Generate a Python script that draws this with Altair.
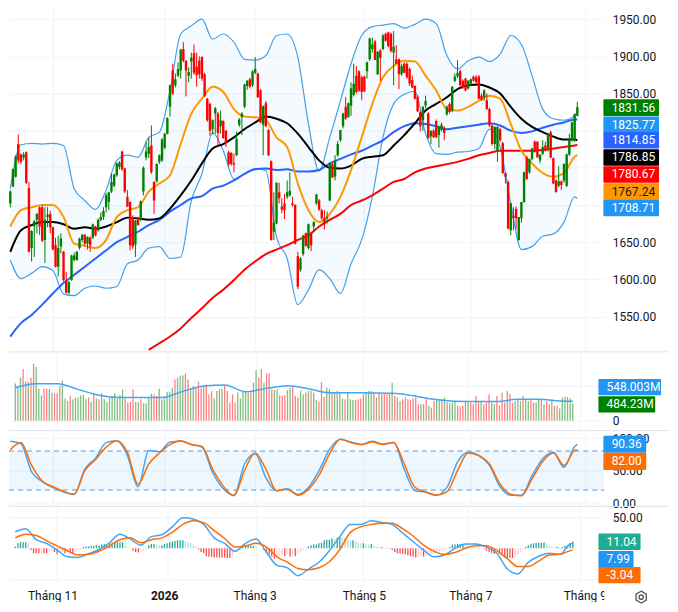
import altair as alt
import pandas as pd

# ---------- candles (price points, one list per field, in time order) ----------
opens = [1702,1725,1738,1782,1768,1764,1771,1723,1642,1671,1680,1697,1697,1653,1684,1688,1670,1646,1617,1644,
1637,1599,1582,1599,1626,1626,1642,1653,1660,1648,1656,1656,1671,1666,1680,1684,1697,1704,1718,1726,
1740,1751,1772,1749,1711,1704,1684,1647,1682,1680,1718,1764,1769,1780,1731,1732,1758,1760,1777,1796,
1832,1881,1861,1874,1881,1910,1894,1874,1893,1904,1886,1894,
1899,1876,1843,1836,1802,1823,1823,1806,1813,1800,1771,1770,1756,1767,1808,1818,1832,1860,1869,1861,
1878,1877,1854,1808,1837,1801,1759,1664,1675,1717,1698,1702,1711,1713,1702,1700,1631,1613,1634,1662,
1642,1662,1671,1702,1706,1693,1682,1682,1706,1755,1738,1767,1787,1806,1832,1818,1834,1848,1874,1880,
1872,1873,1880,1896,1910,1920,1876,1908,1910,1930,1932,1930,1905,1896,1896,
1876,1890,1890,1883,1868,1860,1846,1825,1814,1834,1823,1792,1800,1813,1794,1801,1804,1822,1836,1827,
1867,1873,1880,1867,1870,1857,1863,1873,1872,1873,1847,1845,1841,1829,1807,1782,1773,1802,1783,1743,
1731,1666,1686,1695,1653,1682,1704,1764,1744,1762,1785,1785,1760,1769,1780,1776,1798,1763,1733,1726,
1732,1733,1726,1768,1787,1787,1820]
highs = [1720,1749,1767,1795,1769,1771,1772,1731,1666,1680,1689,1698,1699,1697,1697,1692,1671,1656,1659,1662,
1638,1610,1598,1633,1636,1638,1656,1661,1661,1658,1658,1675,1672,1682,1690,1697,1716,1718,1742,1742,
1757,1759,1773,1750,1720,1705,1686,1680,1684,1706,1752,1785,1791,1807,1732,1756,1768,1790,1797,1818,
1862,1890,1877,1892,1910,1919,1895,1885,1905,1916,1905,1900,
1900,1878,1844,1838,1815,1832,1825,1827,1814,1801,1773,1771,1769,1799,1817,1825,1863,1868,1871,1881,
1899,1878,1856,1834,1840,1802,1760,1717,1730,1730,1709,1715,1733,1744,1711,1701,1637,1630,1660,1663,
1675,1663,1678,1715,1708,1695,1693,1691,1757,1757,1767,1786,1801,1824,1845,1838,1865,1890,1887,1881,
1874,1874,1893,1925,1925,1922,1907,1910,1930,1932,1933,1932,1934,1915,1897,
1890,1892,1892,1885,1874,1861,1848,1827,1833,1847,1825,1800,1802,1815,1806,1811,1806,1834,1838,1860,
1877,1895,1882,1869,1871,1868,1870,1874,1875,1875,1850,1856,1850,1831,1808,1806,1806,1804,1785,1744,
1733,1703,1697,1698,1684,1704,1745,1766,1762,1777,1787,1786,1768,1787,1785,1797,1800,1764,1734,1752,
1733,1756,1769,1796,1812,1823,1839]
lows = [1697,1724,1737,1756,1755,1760,1728,1636,1624,1630,1662,1660,1650,1622,1670,1662,1639,1616,1604,1635,
1597,1581,1580,1598,1624,1625,1640,1650,1645,1640,1637,1654,1658,1664,1678,1680,1690,1693,1716,1724,
1738,1748,1746,1716,1697,1639,1641,1630,1672,1678,1713,1760,1763,1742,1688,1730,1755,1758,1775,1795,
1819,1848,1858,1872,1870,1892,1846,1865,1870,1875,1859,1870,
1867,1845,1812,1793,1795,1796,1779,1796,1789,1778,1752,1753,1744,1766,1805,1794,1830,1855,1857,1859,
1876,1844,1810,1767,1805,1766,1652,1653,1674,1702,1689,1681,1708,1711,1698,1647,1587,1610,1631,1644,
1640,1638,1665,1700,1692,1680,1667,1675,1705,1736,1733,1765,1785,1803,1815,1818,1820,1846,1850,1852,
1841,1852,1870,1894,1905,1895,1875,1867,1908,1920,1912,1905,1861,1890,1856,
1874,1878,1870,1860,1857,1842,1825,1799,1800,1830,1789,1782,1790,1790,1777,1799,1787,1820,1823,1825,
1865,1871,1860,1856,1853,1855,1860,1866,1864,1842,1840,1840,1828,1805,1780,1775,1758,1785,1742,1729,
1668,1659,1666,1668,1652,1676,1703,1734,1742,1760,1771,1764,1756,1767,1772,1772,1763,1728,1717,1724,
1720,1730,1724,1766,1785,1785,1819]
closes = [1718,1748,1765,1760,1758,1768,1730,1637,1665,1678,1688,1671,1652,1680,1687,1670,1640,1617,1642,1655,
1599,1582,1596,1632,1632,1637,1655,1660,1648,1657,1646,1674,1659,1680,1684,1692,1713,1717,1731,1741,
1756,1757,1748,1718,1698,1646,1644,1679,1673,1705,1750,1772,1778,1744,1706,1755,1767,1788,1796,1817,
1861,1850,1869,1883,1909,1894,1881,1879,1898,1878,1875,1876,
1870,1847,1814,1800,1814,1830,1797,1814,1790,1783,1755,1755,1754,1789,1815,1823,1862,1867,1859,1880,
1883,1845,1811,1833,1806,1767,1653,1676,1730,1709,1694,1693,1717,1719,1700,1648,1590,1628,1659,1645,
1674,1646,1677,1714,1694,1682,1674,1684,1756,1737,1760,1782,1801,1823,1816,1837,1857,1863,1852,1854,
1852,1853,1892,1924,1916,1895,1906,1898,1928,1921,1914,1907,1913,1890,1876,
1887,1878,1872,1863,1858,1843,1826,1806,1832,1840,1790,1800,1791,1791,1805,1808,1797,1832,1825,1859,
1873,1878,1861,1858,1854,1867,1869,1867,1865,1843,1842,1854,1829,1807,1782,1805,1805,1787,1743,1738,
1668,1702,1682,1682,1684,1704,1744,1735,1762,1776,1771,1764,1768,1778,1773,1795,1764,1729,1717,1732,
1727,1755,1768,1787,1811,1822,1831.56]

# ---------- moving averages and Bollinger bands, read every fourth session ----------
line_bars = list(range(0, 213, 4)) + [213]
bb_upper = [1722,1781,1783,1782,1783,1780,1722,1706,1694,1720,1760,1767,1764,1791,1798,1854,1930,1941,
1950,1923,1930,1919,1896,1895,1901,1928,1930,1899,1809,1746,1791,1840,1890,1928,1940,1942,1944,
1938,1943,1950,1944,1901,1883,1894,1899,1893,1903,1928,1916,1874,1829,1816,1814,1820,1825.77]
bb_lower = [1626,1601,1608,1617,1612,1580,1578,1588,1591,1588,1590,1621,1626,1642,1644,1628,1630,1706,
1742,1797,1773,1735,1742,1749,1746,1657,1628,1566,1586,1613,1601,1581,1621,1653,1711,1791,1836,
1849,1853,1796,1769,1768,1771,1772,1776,1802,1778,1702,1640,1644,1658,1661,1677,1711,1708.71]
ma_20 = [1671,1693,1697,1700,1700,1684,1648,1645,1642,1653,1684,1693,1697,1718,1729,1740,1782,1823,
1843,1859,1852,1829,1819,1818,1814,1791,1778,1729,1693,1677,1688,1711,1747,1791,1836,1872,1887,
1894,1893,1874,1854,1829,1827,1832,1840,1847,1843,1809,1773,1756,1743,1738,1743,1765,1767.24]
ma_50 = [1637,1666,1673,1677,1677,1674,1668,1670,1668,1671,1677,1683,1682,1680,1682,1695,1713,1733,
1756,1776,1782,1791,1802,1811,1819,1816,1810,1796,1778,1760,1750,1749,1753,1762,1765,1767,1780,
1794,1810,1827,1836,1845,1856,1861,1862,1858,1850,1832,1816,1805,1798,1792,1788,1788,1786.85]
ma_100 = [1523,1541,1552,1566,1581,1595,1606,1617,1628,1639,1650,1657,1664,1673,1680,1691,1700,1709,
1712,1722,1726,1733,1742,1748,1749,1747,1748,1745,1745,1747,1756,1762,1768,1773,1780,1787,1798,
1806,1810,1809,1806,1802,1804,1806,1808,1810,1807,1800,1797,1799,1804,1808,1811,1815,1814.85]
ma_200 = [None]*13 + [1505,1514,1523,1534,1548,
1561,1575,1586,1599,1613,1624,1634,1640,1646,1653,1659,1671,1680,1688,1700,1706,1713,1722,1731,
1735,1744,1749,1752,1755,1758,1762,1767,1770,1773,1773,1773,1773,1774,1776,1778,1780,1780.67]

# ---------- volume, millions ----------
volume = [1054,998,1213,1465,1110,1092,1213,1614,1521,905,718,905,905,886,793,774,774,980,1138,625,
560,700,606,653,653,718,737,606,653,532,793,625,606,774,606,532,653,700,774,625,
718,886,625,513,532,886,532,532,606,494,494,653,765,746,700,905,606,625,812,812,
933,1166,1213,1278,1278,1334,1166,905,980,933,1110,933,980,1026,746,840,625,840,886,905,
980,840,513,746,513,793,625,840,840,793,840,1073,1427,1213,1465,1073,1334,1334,
886,868,886,718,700,718,868,933,980,700,653,840,746,793,840,840,793,588,532,1092,681,933,886,793,793,840,
812,625,606,793,606,588,588,606,625,746,812,840,840,812,653,793,746,774,746,774,1073,
700,653,560,606,653,606,588,625,653,466,466,466,606,420,373,560,606,606,606,653,532,494,513,560,420,
401,420,560,513,513,466,700,560,560,466,513,746,513,466,700,420,793,513,840,765,513,560,606,560,700,
606,560,606,513,513,606,606,466,560,466,606,420,420,345,653,681,672,625,484.23]
vol_ma_bars = list(range(0, 209, 8)) + [213]
vol_ma = [933,1045,1045,886,718,653,653,653,830,980,1008,821,914,989,905,793,
793,784,774,709,606,550,541,541,606,606,560,548.003]

# ---------- stochastic ----------
stoch_k = [95,91,48,33,24,17,13.5,52,69,93,96,73,25,81,79,94,95,90,86,47,22,12,60,76,39,19,22,13.5,24,50,83,98,
94,90,95,91,93,52,19,17,12,24,63,78,73,58,25,12,12,42,68,78,55,87,90.36]
stoch_d = [82,93,58,34,25,18,13.5,50,67,86,96,78,29,60,77,90,96,90,87,52,26,11,50,77,52,19,21,12,21,43,76,98,
93,90,94,90,93,60,24,17,12,17,50,77,73,60,29,13.5,11,37,64,77,58,81,82]

# ---------- MACD ----------
macd_line = [27,32,14,8,-3,-14,-15,-9,-2,9,23,15,5,19,22,35,50,48,39,17,8,-5,8,15,-7,-28,-32,-45,-34,-23,-4,19,
39,39,45,42,39,25,11,-3,-14,-11,0,7,7,2,-8,-34,-42,-23,-13,-8,-10,7,7.99]
macd_signal = [17,23,21,12,4,-4,-11,-10,-5,4,14,17,9,14,17,26,39,45,42,29,16,2,4,8,2,-14,-23,-33,-35,-32,-22,-2,
26,35,39,41,41,32,20,5,-5,-10,-7,0,4,4,-4,-17,-30,-30,-21,-11,-10,-4,-3.04]
macd_hist = [3,8,10,10,10,8,-3,-8,-8,-8,-7,-8,-8,-6,-4,-6,-10,-7,-6,-8,-7,-8,-8,-6,-4,-2,2,3,3,4,4,5,5,6,7,7,8,9,10,10,
10,10,6,3,1,-4,-6,-7,-6,-4,1,5,7,7,6,5,5,7,8,10,11,12,13,13,13,12,10,8,6,3,-2,-6,-8,-13,-14,-14,-15,-15,-15,-15,
-15,-16,-16,-14,-7,-3,2,3,4,4,4,4,3,1,0,-3,-8,-12,-14,-17,-15,-13,-12,-13,-10,-14,-12,-13,-9,-6,-4,-2,3,5,6,6,8,9,13,14,14,16,15,17,19,
18,17,14,13,13,12,10,8,8,7,6,7,4,3,2,2,1,1,-1,-3,-6,-8,-9,-9,-10,-12,-13,-14,-15,-14,-13,-14,-12,-11,-10,-9,-8,-7,-5,-3,-1,
2,6,6,7,7,7,6,5,4,3,1,1,0,-1,-4,-6,-8,-9,-8,-9,-12,-15,-16,-16,-16,-15,-11,-7,-3,2,5,7,8,9,9,9,10,8,4,3,2,2,-1,2,4,5,8,11.04]

# ---------- axes, ticks and value tags ----------
month_bars = [16, 58, 92, 133, 173, 216]
month_labels = ["Tháng 11", "2026", "Tháng 3", "Tháng 5", "Tháng 7", "Tháng 9"]
price_ticks = [1550, 1600, 1650, 1700, 1750, 1800, 1850, 1900, 1950]

tag_start = 222.8
price_tags = ["1831.56", "1825.77", "1814.85", "1786.85", "1780.67", "1767.24", "1708.71"]
price_tag_at = [1831, 1808, 1787, 1764, 1741, 1718, 1696]
price_tag_fill = ["#008000", "#2196f3", "#2962ff", "#000000", "#ff0000", "#ff9800", "#2196f3"]
price_tag_ink = ["#ffffff", "#ffffff", "#ffffff", "#ffffff", "#ffffff", "#131722", "#ffffff"]
vol_tags = ["548.003M", "484.23M"]
vol_tag_at = [952, 462]
vol_tag_fill = ["#2196f3", "#008000"]
vol_tag_end = [246.7, 244.5]
stoch_tags = ["90.36", "82.00"]
stoch_tag_at = [90.5, 64]
stoch_tag_fill = ["#2196f3", "#ff6d00"]
macd_tags = ["11.04", "7.99", "-3.04"]
macd_tag_at = [10.6, -18, -44]
macd_tag_fill = ["#22ab94", "#2196f3", "#ff6d00"]
macd_tag_end = [238.9, 236.2, 238.9]

N = len(closes)
assert all(len(a) == 214 for a in (opens, highs, lows, closes, volume, macd_hist))

FONT = "Roboto"
INK = "#131722"
GRID = "#f0f3fa"
SEP = "#e0e3eb"
X_DOMAIN = [-0.49, 223.1]
W = 597

candles = pd.DataFrame({"bar": range(N), "o": opens, "h": highs, "l": lows, "c": closes,
                        "vol": volume, "hist": macd_hist})
candles["dir"] = ["up" if c >= o else "down" for o, c in zip(opens, closes)]
hk = []
for i, v in enumerate(macd_hist):
    prev = macd_hist[i - 1] if i else v
    if v >= 0:
        hk.append("pos_up" if v >= prev else "pos_down")
    else:
        hk.append("neg_down" if v <= prev else "neg_up")
candles["hk"] = hk
lines = pd.DataFrame({"bar": line_bars, "up": bb_upper, "lo": bb_lower, "m20": ma_20, "m50": ma_50,
                      "m100": ma_100, "m200": ma_200, "k": stoch_k, "d": stoch_d,
                      "macd": macd_line, "sig": macd_signal})


def xenc(field="bar:Q"):
    return alt.X(field, scale=alt.Scale(domain=X_DOMAIN, nice=False, zero=False),
                 axis=alt.Axis(values=month_bars, labels=False, ticks=False, domain=False, title=None,
                               grid=True, gridColor=GRID, gridWidth=1))


def yenc(field, domain, values, label_expr=None, fmt=".2f"):
    kw = dict(values=values, format=fmt, title=None, orient="right", ticks=False, domain=False, grid=True,
              gridColor=GRID, gridWidth=1, labelFont=FONT, labelFontSize=12, labelColor=INK, labelPadding=8,
              labelOverlap=False, labelFlush=False, labelBound=False)
    if label_expr:
        kw["labelExpr"] = label_expr
    return alt.Y(field, scale=alt.Scale(domain=domain, nice=False, zero=False), axis=alt.Axis(**kw))


def sep():
    d = pd.DataFrame({"s": [0]})
    return alt.Chart(d).mark_rule(color=SEP, strokeWidth=1, clip=False).encode(
        x=alt.value(0), x2=alt.value(662), y=alt.value(0))


def tags(names, at, fills, half, yaxis, ends, inks=None):
    d = pd.DataFrame({"t": names, "lo": [a - half for a in at], "hi": [a + half for a in at], "at": at,
                      "fill": fills, "end": ends, "start": [tag_start] * len(names),
                      "ink": inks or ["#ffffff"] * len(names), "tx": [tag_start + 3.1] * len(names)})
    r = alt.Chart(d).mark_rect(cornerRadius=1, clip=False).encode(
        x=xenc("start:Q"), x2="end:Q",
        y=yaxis("lo:Q"), y2="hi:Q",
        color=alt.Color("fill:N", scale=None))
    t = alt.Chart(d).mark_text(align="left", baseline="middle", font=FONT, fontSize=12, clip=False).encode(
        x=xenc("tx:Q"), y=yaxis("at:Q"),
        text="t:N", color=alt.Color("ink:N", scale=None))
    return [r, t]


# ---------- price pane ----------
P_DOM = [1502.4, 1963.8]
price_expr = "(datum.value >= 1700 && datum.value <= 1800) ? '' : datum.label"


def py(field):
    return yenc(field, P_DOM, price_ticks, price_expr)


def pline(field, color, width):
    return alt.Chart(lines.dropna(subset=[field])).mark_line(color=color, strokeWidth=width, clip=True,
                                                             interpolate="monotone").encode(
        x=xenc(), y=py(f"{field}:Q"))


updown = alt.Color("dir:N", scale=alt.Scale(domain=["up", "down"], range=["#008000", "#ff0000"]), legend=None)
band = alt.Chart(lines).mark_area(color="#2196f3", opacity=0.05, clip=True, interpolate="monotone").encode(
    x=xenc(), y=py("up:Q"), y2="lo:Q")
wick = alt.Chart(candles).mark_rule(strokeWidth=1, clip=True).encode(
    x=xenc(), y=py("h:Q"), y2="l:Q", color=updown)
body = alt.Chart(candles).mark_rule(strokeWidth=2.4, clip=True).encode(
    x=xenc(), y=py("o:Q"), y2="c:Q", color=updown)
price_pane = alt.layer(
    band, pline("up", "#42a0ea", 1.2), pline("lo", "#42a0ea", 1.2),
    pline("m200", "#ff0000", 2), pline("m100", "#2962ff", 2),
    pline("m50", "#000000", 2), pline("m20", "#ff9800", 2),
    wick, body,
    *tags(price_tags, price_tag_at, price_tag_fill, 8.3 / 0.7455, py, [243.7] * 7, price_tag_ink),
).properties(width=W, height=344)

# ---------- volume pane ----------
V_DOM = [-280, 1946]
vol_expr = "datum.value == 0 ? '0' : ''"


def vy(field):
    return yenc(field, V_DOM, [0, 1000], vol_expr, "d")


vol_bars = alt.Chart(candles).mark_bar(size=1.3, clip=True, orient="vertical").encode(
    x=xenc(), y=vy("vol:Q"), y2=alt.Y2(datum=0),
    color=alt.Color("dir:N", scale=alt.Scale(domain=["up", "down"], range=["#7fbf7f", "#ff8080"]), legend=None))
vm = pd.DataFrame({"bar": vol_ma_bars, "vm": vol_ma})
vol_line = alt.Chart(vm).mark_line(color="#42a5f5", strokeWidth=1.5, clip=True, interpolate="monotone").encode(
    x=xenc(), y=vy("vm:Q"))
vol_pane = alt.layer(vol_bars, vol_line, sep(),
                     *tags(vol_tags, vol_tag_at, vol_tag_fill, 230, vy, vol_tag_end)
                     ).properties(width=W, height=79)

# ---------- stochastic pane ----------
S_DOM = [-5.2, 111.4]
S_T = [0, 50, 100]


def sy(field):
    return yenc(field, S_DOM, S_T)


sband = pd.DataFrame({"bar": [X_DOMAIN[0], X_DOMAIN[1]], "a": [20, 20], "b": [80, 80]})
s_area = alt.Chart(sband).mark_area(color="#2196f3", opacity=0.08, clip=True).encode(
    x=xenc(), y=sy("a:Q"), y2="b:Q")
s_d1 = alt.Chart(sband).mark_line(color="#4d9cf5", strokeWidth=1, strokeDash=[5, 4], clip=True).encode(
    x=xenc(), y=sy("a:Q"))
s_d2 = alt.Chart(sband).mark_line(color="#4d9cf5", strokeWidth=1, strokeDash=[5, 4], clip=True).encode(
    x=xenc(), y=sy("b:Q"))
s_k = alt.Chart(lines).mark_line(color="#42a5f5", strokeWidth=1.5, clip=True, interpolate="monotone").encode(
    x=xenc(), y=sy("k:Q"))
s_dl = alt.Chart(lines).mark_line(color="#ff6d00", strokeWidth=1.5, clip=True, interpolate="monotone").encode(
    x=xenc(), y=sy("d:Q"))
stoch_pane = alt.layer(s_area, s_d1, s_d2, s_k, s_dl, sep(),
                       *tags(stoch_tags, stoch_tag_at, stoch_tag_fill, 13.2, sy, [238.9, 238.9])
                       ).properties(width=W, height=76)

# ---------- MACD pane ----------
M_DOM = [-55.5, 68.5]
M_T = [-50, 50]
macd_expr = "datum.value < 0 ? '' : datum.label"


def my(field):
    return yenc(field, M_DOM, M_T, macd_expr)


m_bars = alt.Chart(candles).mark_bar(size=1.3, clip=True, orient="vertical").encode(
    x=xenc(), y=my("hist:Q"), y2=alt.Y2(datum=0),
    color=alt.Color("hk:N", scale=alt.Scale(domain=["pos_up", "pos_down", "neg_down", "neg_up"],
                                            range=["#26a69a", "#b2dfdb", "#ef5350", "#ffcdd2"]), legend=None))
m_l = alt.Chart(lines).mark_line(color="#42a5f5", strokeWidth=1.5, clip=True, interpolate="monotone").encode(
    x=xenc(), y=my("macd:Q"))
m_s = alt.Chart(lines).mark_line(color="#ff6d00", strokeWidth=1.5, clip=True, interpolate="monotone").encode(
    x=xenc(), y=my("sig:Q"))
macd_pane = alt.layer(m_bars, m_l, m_s, sep(),
                      *tags(macd_tags, macd_tag_at, macd_tag_fill, 13.4, my, macd_tag_end)
                      ).properties(width=W, height=76)

# ---------- month labels ----------
sx = alt.Scale(domain=X_DOMAIN, nice=False, zero=False)
mdf = pd.DataFrame({"bar": month_bars, "t": month_labels})
m_plain = alt.Chart(mdf[mdf.t != "2026"]).mark_text(font=FONT, fontSize=12, color=INK, clip=True).encode(
    x=alt.X("bar:Q", scale=sx, axis=None), y=alt.value(14), text="t:N")
m_bold = alt.Chart(mdf[mdf.t == "2026"]).mark_text(font=FONT, fontSize=12, fontWeight="bold", color=INK, clip=True).encode(
    x=alt.X("bar:Q", scale=sx, axis=None), y=alt.value(14), text="t:N")
icon = pd.DataFrame({"bar": [237.0]})
hexa = alt.Chart(icon).mark_point(
    shape="M0,-1L0.87,-0.5L0.87,0.5L0,1L-0.87,0.5L-0.87,-0.5Z", size=140, filled=False,
    color=INK, strokeWidth=1.4, clip=False).encode(
    x=alt.X("bar:Q", scale=sx, axis=None), y=alt.value(15))
dot = alt.Chart(icon).mark_point(shape="circle", size=18, filled=False, color=INK, strokeWidth=1.4, clip=False).encode(
    x=alt.X("bar:Q", scale=sx, axis=None), y=alt.value(15))
label_pane = alt.layer(m_plain, m_bold, hexa, dot).properties(width=W, height=20)

chart = alt.vconcat(price_pane, vol_pane, stoch_pane, macd_pane, label_pane, spacing=0, bounds="flush").resolve_scale(
    color="independent"
).properties(padding=0).configure_view(stroke=None)

chart.save("out.html", embed_options={"renderer": "svg", "actions": False})
